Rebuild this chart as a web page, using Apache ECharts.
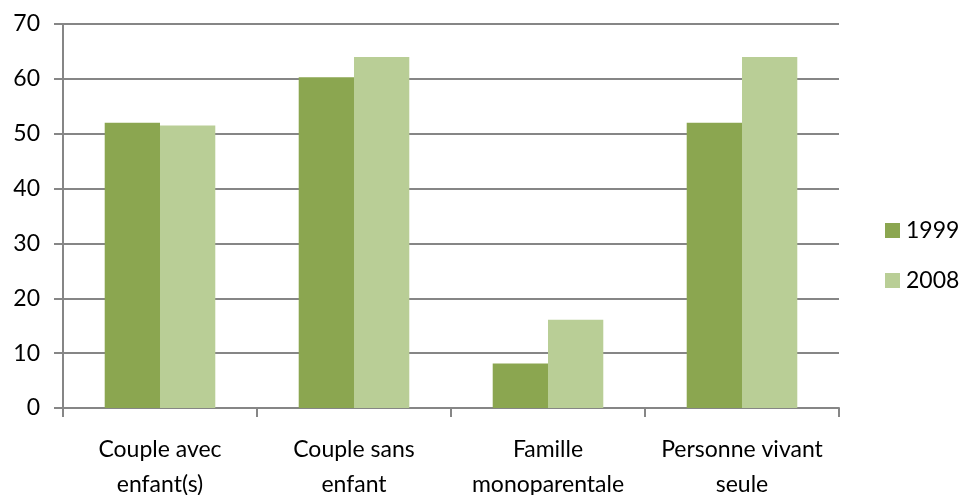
<!DOCTYPE html>
<html>
<head>
<meta charset="utf-8">
<script src="https://cdn.jsdelivr.net/npm/echarts@6/dist/echarts.min.js"></script>
<style>
  html, body { margin: 0; padding: 0; background: #fff; }
  #chart { width: 963px; height: 495px; }
</style>
</head>
<body>
<div id="chart"></div>
<script>
var categories = ['Couple avec\nenfant(s)', 'Couple sans\nenfant', 'Famille\nmonoparentale', 'Personne vivant\nseule'];
var values1999 = [52, 60.3, 8.1, 52];
var values2008 = [51.5, 64, 16.1, 64];
var yTicks = [0, 10, 20, 30, 40, 50, 60, 70];

var axisGray = '#868686';
var fontName = 'Lato';

var myChart = echarts.init(document.getElementById('chart'));
myChart.setOption({
    backgroundColor: '#ffffff',
    animation: false,
    textStyle: { fontFamily: fontName },
    grid: { left: 63, right: 124, top: 24, bottom: 87, outerBoundsMode: 'none', containLabel: false },
    legend: {
        orient: 'vertical',
        left: 880,
        top: 214,
        itemWidth: 15,
        itemHeight: 15,
        itemGap: 27,
        icon: 'rect',
        textStyle: { fontSize: 23, color: '#000', fontFamily: fontName, padding: [0, 0, 0, 1] },
        data: ['1999', '2008']
    },
    xAxis: {
        type: 'category',
        data: categories,
        axisLine: { lineStyle: { color: axisGray, width: 2 } },
        axisTick: { show: true, length: 9, lineStyle: { color: axisGray, width: 2 } },
        axisLabel: {
            interval: 0,
            margin: 24,
            fontSize: 23,
            lineHeight: 35,
            color: '#000',
            fontFamily: fontName
        },
        splitLine: { show: false }
    },
    yAxis: {
        type: 'value',
        min: yTicks[0],
        max: yTicks[yTicks.length - 1],
        interval: 10,
        axisLine: { show: true, lineStyle: { color: axisGray, width: 2 } },
        axisTick: { show: true, length: 9, lineStyle: { color: axisGray, width: 2 } },
        axisLabel: { margin: 23, fontSize: 23, color: '#000', fontFamily: fontName },
        splitLine: { show: true, lineStyle: { color: axisGray, width: 2 } }
    },
    series: [
        {
            name: '1999',
            type: 'bar',
            data: values1999,
            barGap: '0%',
            barCategoryGap: '43%',
            itemStyle: { color: '#8BA650' }
        },
        {
            name: '2008',
            type: 'bar',
            data: values2008,
            itemStyle: { color: '#B9CE96' }
        }
    ]
});
</script>
</body>
</html>
